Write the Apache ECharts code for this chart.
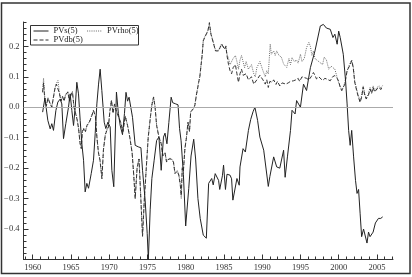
<!DOCTYPE html>
<html><head><meta charset="utf-8">
<script src="https://cdn.jsdelivr.net/npm/echarts@6/dist/echarts.min.js"></script>
<style>html,body{margin:0;padding:0;background:#fff}#c{width:412px;height:277px}</style>
</head><body><div id="c"></div>
<script>
const seriesNames = ['PVs(5)', 'PVrho(5)', 'PVdb(5)'];
const xTickLabels = [1960,1965,1970,1975,1980,1985,1990,1995,2000,2005];
const yTickLabels = [-0.4,-0.3,-0.2,-0.1,0.0,0.1,0.2];

const pvsData = [[1961.3,-0.016],[1961.6,0.03],[1961.98,-0.043],[1962.29,-0.071],[1962.5,-0.054],[1962.72,-0.076],[1963.03,-0.011],[1963.29,0.017],[1963.6,0.027],[1963.81,0.011],[1964.03,-0.103],[1964.33,-0.054],[1964.68,0.0],[1964.9,0.044],[1965.12,-0.011],[1965.34,-0.06],[1965.56,0.0],[1965.77,0.082],[1965.99,0.044],[1966.21,-0.043],[1966.43,-0.12],[1966.65,-0.174],[1966.86,-0.278],[1967.08,-0.25],[1967.3,-0.266],[1967.65,-0.218],[1967.95,-0.174],[1968.17,-0.087],[1968.39,0.011],[1968.61,0.076],[1968.82,0.125],[1969.04,0.055],[1969.35,-0.049],[1969.56,-0.07],[1969.83,-0.049],[1970.13,-0.065],[1970.35,-0.207],[1970.6,-0.261],[1970.95,0.05],[1971.2,-0.02],[1971.44,-0.06],[1971.74,-0.09],[1972.0,-0.02],[1972.2,0.049],[1972.4,0.02],[1972.6,0.033],[1972.8,0.03],[1973.05,-0.033],[1973.4,-0.125],[1973.8,-0.13],[1974.15,-0.133],[1974.36,-0.207],[1974.7,-0.305],[1974.97,-0.414],[1975.12,-0.5],[1975.36,-0.337],[1975.58,-0.234],[1975.88,-0.174],[1976.2,-0.109],[1976.5,-0.098],[1976.8,-0.207],[1977.1,-0.098],[1977.3,-0.085],[1977.55,-0.12],[1977.8,-0.05],[1978.1,0.033],[1978.3,0.015],[1978.7,0.011],[1979.0,0.008],[1979.2,-0.07],[1979.4,-0.11],[1979.7,-0.22],[1980.0,-0.39],[1980.4,-0.267],[1980.7,-0.16],[1981.05,-0.105],[1981.3,-0.17],[1981.6,-0.3],[1981.9,-0.365],[1982.3,-0.42],[1982.7,-0.43],[1983.0,-0.25],[1983.4,-0.234],[1983.6,-0.255],[1983.86,-0.218],[1984.3,-0.24],[1984.45,-0.27],[1984.8,-0.225],[1984.95,-0.19],[1985.2,-0.27],[1985.4,-0.22],[1985.8,-0.223],[1986.0,-0.235],[1986.17,-0.305],[1986.4,-0.3],[1986.7,-0.234],[1987.0,-0.256],[1987.1,-0.196],[1987.5,-0.136],[1987.8,-0.147],[1988.2,-0.076],[1988.5,-0.04],[1988.8,-0.015],[1989.05,0.0],[1989.4,-0.043],[1989.7,-0.098],[1990.2,-0.141],[1990.45,-0.141],[1990.8,-0.26],[1991.0,-0.228],[1991.5,-0.163],[1991.9,-0.196],[1992.3,-0.2],[1992.55,-0.2],[1992.8,-0.141],[1993.0,-0.23],[1993.3,-0.163],[1993.7,-0.076],[1993.9,-0.01],[1994.3,-0.022],[1994.5,0.022],[1995.0,0.0],[1995.4,0.076],[1995.8,0.055],[1996.3,0.13],[1996.9,0.185],[1997.6,0.267],[1998.0,0.272],[1998.4,0.26],[1998.9,0.256],[1999.25,0.229],[1999.5,0.24],[1999.8,0.207],[2000.0,0.25],[2000.2,0.229],[2000.6,0.174],[2000.9,0.087],[2001.1,0.011],[2001.3,-0.076],[2001.5,-0.125],[2001.7,-0.076],[2001.95,-0.163],[2002.2,-0.24],[2002.4,-0.283],[2002.6,-0.27],[2002.8,-0.348],[2003.0,-0.425],[2003.25,-0.4],[2003.45,-0.4],[2003.7,-0.446],[2003.9,-0.41],[2004.1,-0.425],[2004.35,-0.43],[2004.5,-0.41],[2004.8,-0.38],[2005.0,-0.385],[2005.2,-0.365],[2005.5,-0.365],[2005.75,-0.36]];

const pvdbData = [[1961.3,0.049],[1961.42,0.08],[1961.6,0.02],[1961.8,0.005],[1962.0,0.03],[1962.3,0.01],[1962.5,0.0],[1962.7,0.03],[1962.9,0.06],[1963.1,0.076],[1963.3,0.082],[1963.5,0.045],[1963.7,0.02],[1963.9,0.035],[1964.1,0.02],[1964.3,0.04],[1964.6,0.05],[1964.8,0.02],[1965.0,0.04],[1965.2,0.05],[1965.4,0.0],[1965.6,-0.02],[1965.8,-0.04],[1966.0,-0.07],[1966.2,-0.12],[1966.35,-0.136],[1966.5,-0.08],[1966.7,-0.07],[1966.9,-0.08],[1967.1,-0.06],[1967.4,-0.05],[1967.7,-0.03],[1967.95,-0.011],[1968.2,-0.03],[1968.4,-0.1],[1968.6,-0.15],[1968.8,-0.174],[1969.05,-0.235],[1969.25,-0.14],[1969.5,-0.09],[1969.7,-0.076],[1969.9,-0.065],[1970.1,-0.011],[1970.3,0.022],[1970.5,-0.02],[1970.7,0.01],[1970.9,-0.01],[1971.2,-0.03],[1971.5,-0.05],[1971.8,-0.08],[1972.1,-0.03],[1972.4,-0.06],[1972.7,-0.1],[1973.0,-0.15],[1973.2,-0.22],[1973.4,-0.3],[1973.65,-0.2],[1973.9,-0.17],[1974.1,-0.28],[1974.36,-0.424],[1974.6,-0.3],[1974.85,-0.2],[1975.1,-0.1],[1975.4,-0.03],[1975.6,0.01],[1975.8,0.033],[1976.0,0.0],[1976.2,-0.06],[1976.5,-0.098],[1976.8,-0.12],[1977.0,-0.16],[1977.3,-0.15],[1977.5,-0.18],[1977.8,-0.17],[1978.1,-0.17],[1978.4,-0.18],[1978.6,-0.218],[1978.9,-0.21],[1979.1,-0.223],[1979.3,-0.256],[1979.42,-0.29],[1979.55,-0.2],[1979.7,-0.21],[1979.9,-0.136],[1980.1,-0.1],[1980.3,-0.05],[1980.5,-0.08],[1980.65,-0.016],[1980.8,-0.016],[1981.0,-0.005],[1981.2,0.006],[1981.4,0.04],[1981.55,0.06],[1981.7,0.082],[1981.85,0.1],[1982.0,0.136],[1982.15,0.17],[1982.3,0.218],[1982.5,0.23],[1982.7,0.24],[1982.9,0.25],[1983.1,0.278],[1983.3,0.24],[1983.6,0.213],[1983.9,0.185],[1984.1,0.18],[1984.3,0.185],[1984.5,0.196],[1984.7,0.207],[1984.95,0.213],[1985.1,0.19],[1985.25,0.2],[1985.4,0.17],[1985.6,0.14],[1985.8,0.12],[1986.0,0.11],[1986.2,0.13],[1986.5,0.14],[1986.7,0.11],[1986.9,0.082],[1987.1,0.11],[1987.3,0.125],[1987.5,0.105],[1987.7,0.1],[1987.9,0.11],[1988.2,0.09],[1988.4,0.095],[1988.6,0.1],[1988.9,0.076],[1989.1,0.07],[1989.3,0.09],[1989.5,0.085],[1989.7,0.105],[1989.9,0.11],[1990.1,0.09],[1990.4,0.076],[1990.6,0.09],[1990.8,0.065],[1991.0,0.085],[1991.3,0.082],[1991.5,0.09],[1991.8,0.075],[1992.0,0.085],[1992.3,0.07],[1992.6,0.08],[1992.8,0.082],[1993.1,0.076],[1993.4,0.08],[1993.7,0.085],[1994.1,0.087],[1994.4,0.09],[1994.7,0.095],[1994.9,0.085],[1995.2,0.1],[1995.4,0.104],[1995.8,0.095],[1996.1,0.09],[1996.4,0.1],[1996.7,0.114],[1996.9,0.105],[1997.1,0.093],[1997.4,0.1],[1997.6,0.098],[1997.9,0.088],[1998.2,0.095],[1998.5,0.092],[1998.9,0.087],[1999.2,0.1],[1999.5,0.104],[1999.8,0.095],[2000.0,0.085],[2000.2,0.065],[2000.4,0.055],[2000.6,0.066],[2000.8,0.075],[2001.1,0.12],[2001.3,0.12],[2001.5,0.14],[2001.7,0.153],[2001.9,0.13],[2002.1,0.082],[2002.3,0.06],[2002.5,0.04],[2002.8,0.016],[2003.0,0.033],[2003.2,0.066],[2003.4,0.04],[2003.6,0.027],[2003.9,0.04],[2004.1,0.06],[2004.3,0.045],[2004.5,0.065],[2004.7,0.05],[2005.0,0.06],[2005.3,0.065],[2005.5,0.058],[2005.75,0.068]];

const pvrhoData = [[1961.3,0.052],[1961.42,0.095],[1961.6,0.025],[1961.8,0.008],[1962.0,0.032],[1962.3,0.012],[1962.5,0.002],[1962.7,0.032],[1962.9,0.062],[1963.1,0.078],[1963.3,0.088],[1963.5,0.048],[1963.7,0.022],[1963.9,0.037],[1964.1,0.022],[1964.3,0.042],[1964.6,0.052],[1964.8,0.022],[1965.0,0.042],[1965.2,0.052],[1965.4,0.002],[1965.6,-0.018],[1965.8,-0.038],[1966.0,-0.068],[1966.2,-0.118],[1966.35,-0.13],[1966.5,-0.078],[1966.7,-0.068],[1966.9,-0.078],[1967.1,-0.058],[1967.4,-0.048],[1967.7,-0.028],[1967.95,-0.009],[1968.2,-0.028],[1968.4,-0.098],[1968.6,-0.148],[1968.8,-0.172],[1969.05,-0.23],[1969.25,-0.138],[1969.5,-0.088],[1969.7,-0.074],[1969.9,-0.063],[1970.1,-0.009],[1970.3,0.024],[1970.5,-0.018],[1970.7,0.012],[1970.9,-0.008],[1971.2,-0.028],[1971.5,-0.048],[1971.8,-0.078],[1972.1,-0.028],[1972.4,-0.058],[1972.7,-0.098],[1973.0,-0.148],[1973.2,-0.218],[1973.4,-0.298],[1973.65,-0.198],[1973.9,-0.168],[1974.1,-0.278],[1974.36,-0.42],[1974.6,-0.298],[1974.85,-0.198],[1975.1,-0.098],[1975.4,-0.028],[1975.6,0.012],[1975.8,0.035],[1976.0,0.002],[1976.2,-0.058],[1976.5,-0.096],[1976.8,-0.118],[1977.0,-0.158],[1977.3,-0.148],[1977.5,-0.178],[1977.8,-0.168],[1978.1,-0.168],[1978.4,-0.178],[1978.6,-0.215],[1978.9,-0.208],[1979.1,-0.22],[1979.3,-0.254],[1979.42,-0.3],[1979.55,-0.198],[1979.7,-0.208],[1979.9,-0.134],[1980.1,-0.098],[1980.3,-0.048],[1980.5,-0.078],[1980.65,-0.014],[1980.8,-0.014],[1981.0,-0.003],[1981.2,0.008],[1981.4,0.042],[1981.55,0.062],[1981.7,0.084],[1981.85,0.102],[1982.0,0.138],[1982.15,0.172],[1982.3,0.22],[1982.5,0.232],[1982.7,0.242],[1982.9,0.252],[1983.1,0.272],[1983.3,0.242],[1983.6,0.215],[1983.9,0.187],[1984.1,0.182],[1984.3,0.187],[1984.5,0.198],[1984.7,0.209],[1984.95,0.215],[1985.1,0.192],[1985.25,0.202],[1985.4,0.175],[1985.6,0.16],[1985.8,0.14],[1986.0,0.135],[1986.2,0.16],[1986.5,0.17],[1986.7,0.15],[1986.9,0.125],[1987.1,0.155],[1987.3,0.17],[1987.5,0.15],[1987.7,0.13],[1987.9,0.15],[1988.2,0.125],[1988.4,0.13],[1988.6,0.14],[1988.9,0.11],[1989.1,0.1],[1989.3,0.13],[1989.5,0.125],[1989.7,0.15],[1989.9,0.155],[1990.1,0.12],[1990.4,0.1],[1990.6,0.12],[1990.8,0.11],[1991.05,0.207],[1991.2,0.174],[1991.5,0.185],[1991.7,0.17],[1991.9,0.185],[1992.2,0.17],[1992.5,0.165],[1992.8,0.142],[1993.0,0.14],[1993.2,0.131],[1993.5,0.16],[1993.7,0.14],[1993.9,0.163],[1994.2,0.15],[1994.5,0.155],[1994.7,0.145],[1995.0,0.174],[1995.2,0.15],[1995.5,0.16],[1995.8,0.196],[1996.1,0.213],[1996.3,0.2],[1996.5,0.17],[1996.7,0.185],[1996.9,0.16],[1997.1,0.165],[1997.4,0.15],[1997.6,0.155],[1997.9,0.14],[1998.1,0.165],[1998.4,0.155],[1998.7,0.125],[1999.0,0.135],[1999.2,0.13],[1999.5,0.125],[1999.8,0.098],[2000.0,0.08],[2000.2,0.07],[2000.4,0.055],[2000.6,0.066],[2000.8,0.08],[2001.1,0.12],[2001.3,0.125],[2001.5,0.145],[2001.7,0.155],[2001.9,0.135],[2002.1,0.085],[2002.3,0.065],[2002.5,0.045],[2002.8,0.02],[2003.0,0.038],[2003.2,0.07],[2003.4,0.045],[2003.6,0.03],[2003.9,0.045],[2004.1,0.065],[2004.3,0.05],[2004.5,0.07],[2004.7,0.055],[2005.0,0.065],[2005.3,0.07],[2005.5,0.062],[2005.75,0.072]];

const FONT = "'Liberation Serif','DejaVu Serif',serif";
const X_MIN = 1958.8, X_MAX = 2007.1, Y_MIN = -0.5, Y_MAX = 0.28;
const xMinorTicks = []; for (let y = 1959; y <= 2007; y++) xMinorTicks.push(y);
const yMinorTicks = []; for (let k = -25; k <= 14; k++) yMinorTicks.push(Math.round(k * 2) / 100);

const fmtY = v => (v < 0 ? '\u2212' : '') + Math.abs(v).toFixed(1);
const axisColor = '#333';
const legendBase = {orient: 'horizontal', itemWidth: 15, itemHeight: 8, itemGap: 9, padding: 0,
  itemStyle: {opacity: 0, borderWidth: 0},
  lineStyle: {width: 1},
  textStyle: {fontFamily: FONT, fontSize: 8.5, color: '#222', lineHeight: 9}};

const chart = echarts.init(document.getElementById('c'), null, {renderer: 'canvas'});
chart.setOption({
  animation: false,
  backgroundColor: '#fff',
  grid: {left: 23.5, right: 19, top: 22, bottom: 17.5},
  xAxis: [
    {type: 'value', min: X_MIN, max: X_MAX,
     axisLine: {onZero: false, lineStyle: {color: axisColor, width: 1}},
     axisTick: {inside: true, length: 3, customValues: xMinorTicks, lineStyle: {color: axisColor}},
     axisLabel: {customValues: xTickLabels, formatter: v => String(v), fontFamily: FONT, fontSize: 8.5, color: axisColor, margin: 4},
     splitLine: {show: false}},
    {type: 'value', min: X_MIN, max: X_MAX, position: 'bottom',
     axisLine: {show: false, onZero: false},
     axisTick: {inside: true, length: 5, customValues: xTickLabels, lineStyle: {color: axisColor}},
     axisLabel: {show: false}, splitLine: {show: false}}
  ],
  yAxis: [
    {type: 'value', min: Y_MIN, max: Y_MAX,
     axisLine: {show: true, onZero: false, lineStyle: {color: axisColor, width: 1}},
     axisTick: {show: true, inside: true, length: 3, customValues: yMinorTicks, lineStyle: {color: axisColor}},
     axisLabel: {customValues: yTickLabels, formatter: fmtY, fontFamily: FONT, fontSize: 8.5, color: axisColor, margin: 4},
     splitLine: {show: false}},
    {type: 'value', min: Y_MIN, max: Y_MAX, position: 'left',
     axisLine: {show: false, onZero: false},
     axisTick: {show: true, inside: true, length: 5, customValues: yTickLabels, lineStyle: {color: axisColor}},
     axisLabel: {show: false}, splitLine: {show: false}}
  ],
  legend: [
    Object.assign({data: [seriesNames[0], seriesNames[1]], left: 33, top: 26.5}, legendBase),
    Object.assign({data: [seriesNames[2]], left: 33, top: 35.5}, legendBase)
  ],
  graphic: [
    {type: 'rect', silent: true, shape: {x: 1.5, y: 3, width: 408.5, height: 270.5},
     style: {fill: null, stroke: '#333', lineWidth: 1.5}},
    {type: 'rect', silent: true, shape: {x: 30.5, y: 25.5, width: 108, height: 19.5},
     style: {fill: null, stroke: '#333', lineWidth: 1}}
  ],
  series: [
    {name: seriesNames[1], type: 'line', data: pvrhoData, symbol: 'none', z: 2,
     lineStyle: {color: '#666', width: 1, type: [1, 1.2]}, itemStyle: {color: '#666'},
     markLine: {silent: true, symbol: ['none', 'none'], label: {show: false},
       lineStyle: {color: '#aaa', width: 1.2, type: 'solid'}, data: [{yAxis: 0}]}},
    {name: seriesNames[2], type: 'line', data: pvdbData, symbol: 'none', z: 3,
     lineStyle: {color: '#333', width: 1, type: [4, 2]}, itemStyle: {color: '#333'}},
    {name: seriesNames[0], type: 'line', data: pvsData, symbol: 'none', z: 4,
     lineStyle: {color: '#222', width: 1, type: 'solid'}, itemStyle: {color: '#222'}}
  ]
});
</script></body></html>
